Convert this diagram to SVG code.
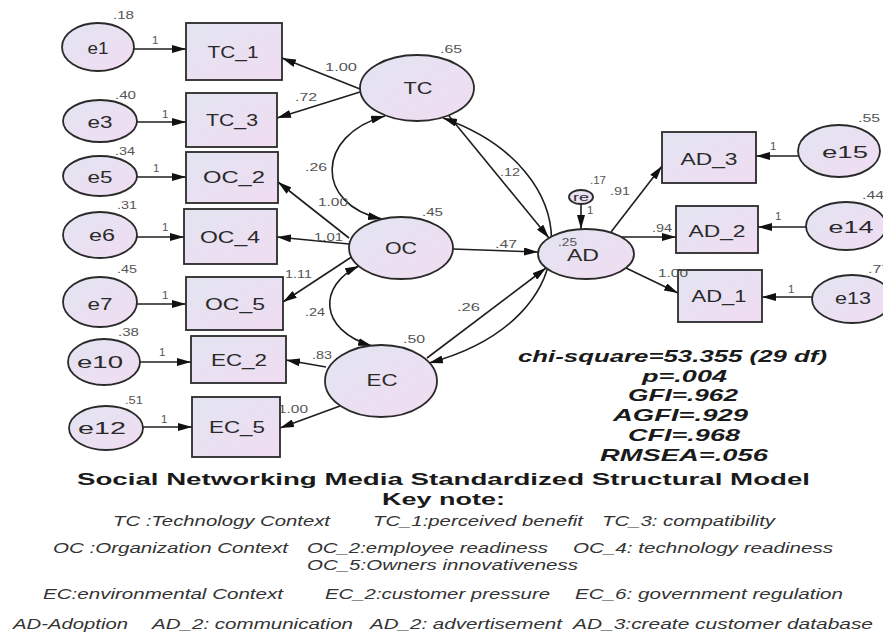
<svg xmlns="http://www.w3.org/2000/svg" width="883" height="635" viewBox="0 0 883 635">
<defs>
<linearGradient id="fillg" x1="0" y1="0" x2="1" y2="1">
<stop offset="0" stop-color="#e2e5f1"/>
<stop offset="1" stop-color="#f1dcf2"/>
</linearGradient>
<marker id="ah" viewBox="0 0 14 8" refX="14" refY="4" markerWidth="14" markerHeight="8" markerUnits="userSpaceOnUse" orient="auto-start-reverse">
<path d="M0,0 L14,4 L0,8 z" fill="#111"/>
</marker>
<style>
.n{fill:url(#fillg);stroke:#2a2a2a;stroke-width:1.8}
.c{fill:none;stroke:#1e1e1e;stroke-width:1.6;marker-end:url(#ah)}
.cv{fill:none;stroke:#1e1e1e;stroke-width:1.6;marker-end:url(#ah);marker-start:url(#ah)}
.lb{font-family:"Liberation Sans",Arial,sans-serif;font-size:17px;fill:#2a2a2a;text-anchor:middle}
.num{font-family:"Liberation Sans",Arial,sans-serif;font-size:11.5px;fill:#555}
.st{font-family:"Liberation Sans",Arial,sans-serif;font-size:17px;font-weight:bold;font-style:italic;fill:#1a1a1a}
.ti{font-family:"Liberation Sans",Arial,sans-serif;font-size:17px;font-weight:bold;fill:#1a1a1a}
.k{font-family:"Liberation Sans",Arial,sans-serif;font-size:14px;font-style:italic;fill:#333}
</style>
</defs>
<rect width="883" height="635" fill="#ffffff"/>

<g id="connectors">
<path class="c" d="M134,49 L186,49"/>
<path class="c" d="M137,122 L186,122"/>
<path class="c" d="M137,177 L186,177"/>
<path class="c" d="M137,237 L184,237"/>
<path class="c" d="M137,304 L186,304"/>
<path class="c" d="M140,362 L191,362"/>
<path class="c" d="M143,427 L192,427"/>
<path class="c" d="M360,89 L282,58"/>
<path class="c" d="M360,92 L277,118"/>
<path class="c" d="M349,238 L278,182"/>
<path class="c" d="M349,244 L277,237"/>
<path class="c" d="M353,256 L283,302"/>
<path class="c" d="M326,367 L286,360"/>
<path class="c" d="M340,406 L280,428"/>
<path class="c" d="M453,249 L538,252"/>
<path class="c" d="M427,358 L546,268"/>
<path class="c" d="M449,116 L549,238"/>
<path class="c" d="M581,204 L581,229"/>
<path class="c" d="M611,232 L662,166"/>
<path class="c" d="M621,237 L676,237"/>
<path class="c" d="M626,268 L678,293"/>
<path class="c" d="M798,156 L756,156"/>
<path class="c" d="M806,227 L758,227"/>
<path class="c" d="M812,297 L762,297"/>
<path class="cv" d="M385,116 C315,135 315,205 382,219"/>
<path class="cv" d="M359,266 C318,285 318,330 372,346"/>
<path class="cv" d="M443,118 C590,170 590,320 429,363"/>
</g>

<g id="node-e1"><ellipse class="n" cx="98" cy="47" rx="36" ry="24"/><text class="lb" x="98" y="54" textLength="21" lengthAdjust="spacingAndGlyphs">e1</text></g>
<g id="node-TC_1"><rect class="n" x="186" y="23" width="96" height="57"/><text class="lb" x="233" y="58" textLength="51" lengthAdjust="spacingAndGlyphs">TC_1</text></g>
<g id="node-e3"><ellipse class="n" cx="100" cy="121" rx="37" ry="21"/><text class="lb" x="100" y="128" textLength="25" lengthAdjust="spacingAndGlyphs">e3</text></g>
<g id="node-TC_3"><rect class="n" x="186" y="93" width="91" height="54"/><text class="lb" x="232" y="126" textLength="52" lengthAdjust="spacingAndGlyphs">TC_3</text></g>
<g id="node-e5"><ellipse class="n" cx="100" cy="176" rx="37" ry="20"/><text class="lb" x="100" y="183" textLength="25" lengthAdjust="spacingAndGlyphs">e5</text></g>
<g id="node-OC_2"><rect class="n" x="186" y="152" width="92" height="51"/><text class="lb" x="234" y="183" textLength="62" lengthAdjust="spacingAndGlyphs">OC_2</text></g>
<g id="node-e6"><ellipse class="n" cx="100" cy="235" rx="37" ry="23"/><text class="lb" x="102" y="241" textLength="26" lengthAdjust="spacingAndGlyphs">e6</text></g>
<g id="node-OC_4"><rect class="n" x="184" y="209" width="93" height="55"/><text class="lb" x="230" y="243" textLength="60" lengthAdjust="spacingAndGlyphs">OC_4</text></g>
<g id="node-e7"><ellipse class="n" cx="100" cy="302" rx="37" ry="25"/><text class="lb" x="100" y="310" textLength="25" lengthAdjust="spacingAndGlyphs">e7</text></g>
<g id="node-OC_5"><rect class="n" x="186" y="277" width="97" height="53"/><text class="lb" x="235" y="310" textLength="60" lengthAdjust="spacingAndGlyphs">OC_5</text></g>
<g id="node-e10"><ellipse class="n" cx="104" cy="362" rx="36" ry="23"/><text class="lb" x="100" y="368" textLength="46" lengthAdjust="spacingAndGlyphs">e10</text></g>
<g id="node-EC_2"><rect class="n" x="191" y="336" width="95" height="47"/><text class="lb" x="239" y="366" textLength="56" lengthAdjust="spacingAndGlyphs">EC_2</text></g>
<g id="node-e12"><ellipse class="n" cx="106" cy="428" rx="37" ry="22"/><text class="lb" x="102" y="434" textLength="48" lengthAdjust="spacingAndGlyphs">e12</text></g>
<g id="node-EC_5"><rect class="n" x="192" y="397" width="88" height="60"/><text class="lb" x="237" y="433" textLength="56" lengthAdjust="spacingAndGlyphs">EC_5</text></g>
<g id="node-TC"><ellipse class="n" cx="417" cy="88" rx="57" ry="33"/><text class="lb" x="418" y="94" textLength="29" lengthAdjust="spacingAndGlyphs">TC</text></g>
<g id="node-OC"><ellipse class="n" cx="401" cy="248" rx="52" ry="31"/><text class="lb" x="401" y="254" textLength="32" lengthAdjust="spacingAndGlyphs">OC</text></g>
<g id="node-EC"><ellipse class="n" cx="381" cy="381" rx="56" ry="36"/><text class="lb" x="382" y="386" textLength="31" lengthAdjust="spacingAndGlyphs">EC</text></g>
<g id="node-AD"><ellipse class="n" cx="586" cy="254" rx="48" ry="25"/><text class="lb" x="583" y="261" textLength="32" lengthAdjust="spacingAndGlyphs">AD</text></g>
<g id="node-re"><ellipse class="n" cx="581" cy="197" rx="12" ry="7"/><text x="581" y="201" text-anchor="middle" font-family="Liberation Sans, Arial, sans-serif" font-size="11" fill="#2a2a2a" textLength="16" lengthAdjust="spacingAndGlyphs">re</text></g>
<g id="node-AD_3"><rect class="n" x="662" y="132" width="94" height="51"/><text class="lb" x="709" y="165" textLength="57" lengthAdjust="spacingAndGlyphs">AD_3</text></g>
<g id="node-AD_2"><rect class="n" x="676" y="206" width="82" height="47"/><text class="lb" x="717" y="237" textLength="57" lengthAdjust="spacingAndGlyphs">AD_2</text></g>
<g id="node-AD_1"><rect class="n" x="678" y="270" width="84" height="52"/><text class="lb" x="719" y="302" textLength="55" lengthAdjust="spacingAndGlyphs">AD_1</text></g>
<g id="node-e15"><ellipse class="n" cx="839" cy="151" rx="41" ry="26"/><text class="lb" x="845" y="158" textLength="46" lengthAdjust="spacingAndGlyphs">e15</text></g>
<g id="node-e14"><ellipse class="n" cx="846" cy="226" rx="40" ry="24"/><text class="lb" x="851" y="233" textLength="45" lengthAdjust="spacingAndGlyphs">e14</text></g>
<g id="node-e13"><ellipse class="n" cx="852" cy="299" rx="40" ry="24"/><text class="lb" x="853" y="304" textLength="36" lengthAdjust="spacingAndGlyphs">e13</text></g>

<g id="estimates">
<text class="num" x="113" y="19" textLength="21" lengthAdjust="spacingAndGlyphs">.18</text>
<text class="num" x="115" y="99" textLength="21" lengthAdjust="spacingAndGlyphs">.40</text>
<text class="num" x="115" y="155" textLength="20" lengthAdjust="spacingAndGlyphs">.34</text>
<text class="num" x="117" y="209" textLength="20" lengthAdjust="spacingAndGlyphs">.31</text>
<text class="num" x="117" y="273" textLength="20" lengthAdjust="spacingAndGlyphs">.45</text>
<text class="num" x="118" y="336" textLength="21" lengthAdjust="spacingAndGlyphs">.38</text>
<text class="num" x="125" y="404" textLength="18" lengthAdjust="spacingAndGlyphs">.51</text>
<text class="num" x="152" y="44">1</text>
<text class="num" x="162" y="118">1</text>
<text class="num" x="153" y="172">1</text>
<text class="num" x="162" y="231">1</text>
<text class="num" x="162" y="299">1</text>
<text class="num" x="159" y="356">1</text>
<text class="num" x="161" y="423">1</text>
<text class="num" x="440" y="53" textLength="22" lengthAdjust="spacingAndGlyphs">.65</text>
<text class="num" x="325" y="71" textLength="32" lengthAdjust="spacingAndGlyphs">1.00</text>
<text class="num" x="295" y="101" textLength="22" lengthAdjust="spacingAndGlyphs">.72</text>
<text class="num" x="305" y="171" textLength="22" lengthAdjust="spacingAndGlyphs">.26</text>
<text class="num" x="500" y="176" textLength="20" lengthAdjust="spacingAndGlyphs">.12</text>
<text class="num" x="318" y="206" textLength="30" lengthAdjust="spacingAndGlyphs">1.00</text>
<text class="num" x="422" y="216" textLength="21" lengthAdjust="spacingAndGlyphs">.45</text>
<text class="num" x="314" y="241" textLength="29" lengthAdjust="spacingAndGlyphs">1.01</text>
<text class="num" x="285" y="278" textLength="27" lengthAdjust="spacingAndGlyphs">1.11</text>
<text class="num" x="495" y="248" textLength="22" lengthAdjust="spacingAndGlyphs">.47</text>
<text class="num" x="305" y="316" textLength="20" lengthAdjust="spacingAndGlyphs">.24</text>
<text class="num" x="457" y="311" textLength="23" lengthAdjust="spacingAndGlyphs">.26</text>
<text class="num" x="403" y="343" textLength="22" lengthAdjust="spacingAndGlyphs">.50</text>
<text class="num" x="312" y="359" textLength="20" lengthAdjust="spacingAndGlyphs">.83</text>
<text class="num" x="278" y="413" textLength="30" lengthAdjust="spacingAndGlyphs">1.00</text>
<text class="num" x="590" y="184" textLength="16" lengthAdjust="spacingAndGlyphs">.17</text>
<text class="num" x="610" y="195" textLength="20" lengthAdjust="spacingAndGlyphs">.91</text>
<text class="num" x="587" y="214">1</text>
<text class="num" x="558" y="246" textLength="19" lengthAdjust="spacingAndGlyphs">.25</text>
<text class="num" x="652" y="232" textLength="20" lengthAdjust="spacingAndGlyphs">.94</text>
<text class="num" x="658" y="277" textLength="30" lengthAdjust="spacingAndGlyphs">1.00</text>
<text class="num" x="770" y="150">1</text>
<text class="num" x="775" y="220">1</text>
<text class="num" x="788" y="293">1</text>
<text class="num" x="858" y="122" textLength="22" lengthAdjust="spacingAndGlyphs">.55</text>
<text class="num" x="862" y="199" textLength="22" lengthAdjust="spacingAndGlyphs">.44</text>
<text class="num" x="868" y="273" textLength="22" lengthAdjust="spacingAndGlyphs">.77</text>
</g>

<g id="fit-stats">
<text class="st" x="518" y="362" textLength="309" lengthAdjust="spacingAndGlyphs">chi-square=53.355 (29 df)</text>
<text class="st" x="642" y="382" textLength="85" lengthAdjust="spacingAndGlyphs">p=.004</text>
<text class="st" x="628" y="401" textLength="110" lengthAdjust="spacingAndGlyphs">GFI=.962</text>
<text class="st" x="613" y="421" textLength="135" lengthAdjust="spacingAndGlyphs">AGFI=.929</text>
<text class="st" x="628" y="441" textLength="112" lengthAdjust="spacingAndGlyphs">CFI=.968</text>
<text class="st" x="600" y="461" textLength="168" lengthAdjust="spacingAndGlyphs">RMSEA=.056</text>
</g>

<g id="caption">
<text class="ti" x="77" y="485" textLength="733" lengthAdjust="spacingAndGlyphs">Social Networking Media Standardized  Structural Model</text>
<text class="ti" x="382" y="505" textLength="123" lengthAdjust="spacingAndGlyphs">Key note:</text>
<text class="k" x="113" y="526" textLength="217" lengthAdjust="spacingAndGlyphs">TC :Technology Context</text>
<text class="k" x="373" y="526" textLength="210" lengthAdjust="spacingAndGlyphs">TC_1:perceived benefit</text>
<text class="k" x="602" y="526" textLength="173" lengthAdjust="spacingAndGlyphs">TC_3: compatibility</text>
<text class="k" x="53" y="553" textLength="235" lengthAdjust="spacingAndGlyphs">OC :Organization Context</text>
<text class="k" x="307" y="553" textLength="241" lengthAdjust="spacingAndGlyphs">OC_2:employee readiness</text>
<text class="k" x="573" y="553" textLength="260" lengthAdjust="spacingAndGlyphs">OC_4: technology readiness</text>
<text class="k" x="307" y="570" textLength="271" lengthAdjust="spacingAndGlyphs">OC_5:Owners innovativeness</text>
<text class="k" x="43" y="599" textLength="240" lengthAdjust="spacingAndGlyphs">EC:environmental Context</text>
<text class="k" x="325" y="599" textLength="225" lengthAdjust="spacingAndGlyphs">EC_2:customer pressure</text>
<text class="k" x="575" y="599" textLength="268" lengthAdjust="spacingAndGlyphs">EC_6: government regulation</text>
<text class="k" x="13" y="629" textLength="115" lengthAdjust="spacingAndGlyphs">AD-Adoption</text>
<text class="k" x="152" y="629" textLength="201" lengthAdjust="spacingAndGlyphs">AD_2: communication</text>
<text class="k" x="370" y="629" textLength="192" lengthAdjust="spacingAndGlyphs">AD_2: advertisement</text>
<text class="k" x="573" y="629" textLength="300" lengthAdjust="spacingAndGlyphs">AD_3:create customer database</text>
</g>
</svg>
